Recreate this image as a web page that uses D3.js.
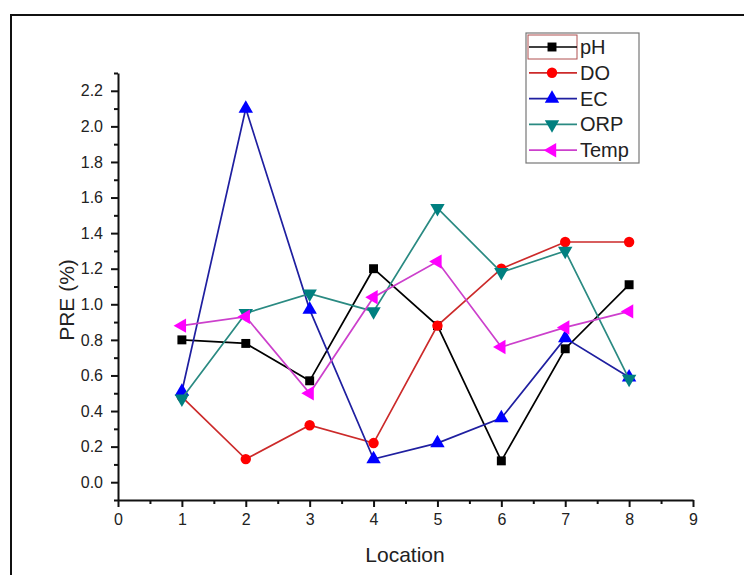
<!DOCTYPE html>
<html><head><meta charset="utf-8">
<script src="https://cdn.jsdelivr.net/npm/d3@7"></script>
<style>body{margin:0;background:#fff}svg{display:block}text{font-family:"Liberation Sans",Arial,sans-serif}</style>
</head><body><svg id="c" width="744" height="575"></svg>
<script>
const locations = [1,2,3,4,5,6,7,8];
const pH   = [0.80,0.78,0.57,1.20,0.88,0.12,0.75,1.11];
const DO   = [0.48,0.13,0.32,0.22,0.88,1.20,1.35,1.35];
const EC   = [0.51,2.10,0.97,0.13,0.22,0.36,0.81,0.59];
const ORP  = [0.47,0.95,1.06,0.96,1.54,1.18,1.30,0.58];
const Temp = [0.88,0.93,0.50,1.04,1.24,0.76,0.87,0.96];
const seriesNames = ["pH","DO","EC","ORP","Temp"];
const xTicks = [0,1,2,3,4,5,6,7,8,9];
const yTicks = [0.0,0.2,0.4,0.6,0.8,1.0,1.2,1.4,1.6,1.8,2.0,2.2];

const series = [
  {name:"pH", values:pH, line:"#000000", fill:"#000000", sym:"square"},
  {name:"DO", values:DO, line:"#cc2a2a", fill:"#ff0000", sym:"circle"},
  {name:"EC", values:EC, line:"#1f1fa0", fill:"#0000ff", sym:"up"},
  {name:"ORP", values:ORP, line:"#2a8a82", fill:"#008080", sym:"down"},
  {name:"Temp", values:Temp, line:"#cc40cc", fill:"#ff00ff", sym:"left"}
];

const svg = d3.select("#c");
svg.append("path").attr("d","M11,575 L11,15 L744,15").attr("fill","none").attr("stroke","#111").attr("stroke-width",2);

const x = d3.scaleLinear().domain([0,9]).range([118,693]);
const y = d3.scaleLinear().domain([-0.1,2.3]).range([500,73]);

const minorY = d3.range(-1,24,2).map(v=>v/10);
const minorX = d3.range(1,18,2).map(v=>v/2);

svg.append("g").attr("transform","translate(118,0)")
  .call(d3.axisLeft(y).tickValues(minorY).tickSize(4).tickSizeOuter(0).tickFormat(""))
  .call(g=>g.select(".domain").remove())
  .call(g=>g.selectAll("line").attr("stroke","#111").attr("stroke-width",2));
svg.append("g").attr("transform","translate(0,500)")
  .call(d3.axisBottom(x).tickValues(minorX).tickSize(4).tickSizeOuter(0).tickFormat(""))
  .call(g=>g.select(".domain").remove())
  .call(g=>g.selectAll("line").attr("stroke","#111").attr("stroke-width",2));

const gy = svg.append("g").attr("transform","translate(118,0)")
  .call(d3.axisLeft(y).tickValues(yTicks).tickSize(7).tickSizeOuter(0).tickPadding(8).tickFormat(d3.format(".1f")));
const gx = svg.append("g").attr("transform","translate(0,500)")
  .call(d3.axisBottom(x).tickValues(xTicks).tickSize(7).tickSizeOuter(0).tickPadding(7).tickFormat(d3.format("d")));
[gy,gx].forEach(g=>{
  g.attr("font-size",16);
  g.select(".domain").attr("stroke","#111").attr("stroke-width",2);
  g.selectAll("line").attr("stroke","#111").attr("stroke-width",2);
  g.selectAll("text").attr("font-size",16).attr("fill","#222").attr("font-family","Liberation Sans, Arial, sans-serif");
});

svg.append("text").attr("x",405).attr("y",562).attr("text-anchor","middle")
  .attr("font-size",21).attr("fill","#222").text("Location");
svg.append("text").attr("transform","translate(74,300) rotate(-90)").attr("text-anchor","middle")
  .attr("font-size",21).attr("fill","#222").text("PRE (%)");

function symPath(sym){
  const s = {square:d3.symbolSquare, circle:d3.symbolCircle, up:d3.symbolTriangle, down:d3.symbolTriangle, left:d3.symbolTriangle}[sym];
  const size = {square:80, circle:85, up:90, down:90, left:90}[sym];
  return d3.symbol().type(s).size(size)();
}
function symRot(sym){ return {up:0,down:180,left:-90}[sym] || 0; }

const line = d3.line().x((d,i)=>x(locations[i])).y(d=>y(d));
series.forEach(s=>{
  const g = svg.append("g");
  g.append("path").attr("d",line(s.values)).attr("fill","none").attr("stroke",s.line).attr("stroke-width",1.7);
  g.selectAll("path.m").data(s.values).join("path").attr("class","m")
    .attr("d",symPath(s.sym))
    .attr("transform",(d,i)=>`translate(${x(locations[i])},${y(d)}) rotate(${symRot(s.sym)})`)
    .attr("fill",s.fill);
});

const lg = svg.append("g");
lg.append("rect").attr("x",526).attr("y",33).attr("width",113).attr("height",130)
  .attr("fill","#fff").attr("stroke","#777").attr("stroke-width",1.2);
lg.append("rect").attr("x",528).attr("y",35).attr("width",49).attr("height",24)
  .attr("fill","none").attr("stroke","#b05050").attr("stroke-width",1);
series.forEach((s,i)=>{
  const cy = 47 + i*25.8;
  lg.append("line").attr("x1",529).attr("x2",577).attr("y1",cy).attr("y2",cy).attr("stroke",s.line).attr("stroke-width",1.7);
  lg.append("path").attr("d",symPath(s.sym)).attr("transform",`translate(552,${cy}) rotate(${symRot(s.sym)})`).attr("fill",s.fill);
  lg.append("text").attr("x",580).attr("y",cy+7).attr("font-size",20).attr("fill","#222").text(seriesNames[i]);
});
</script></body></html>
